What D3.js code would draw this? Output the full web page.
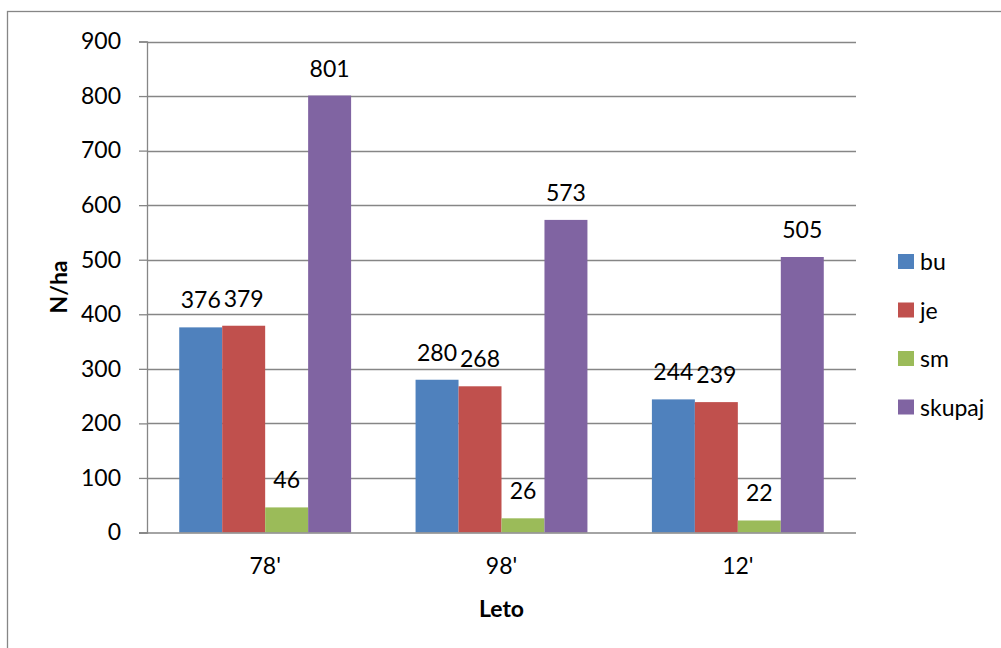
<!DOCTYPE html>
<html>
<head>
<meta charset="utf-8">
<script src="https://cdn.jsdelivr.net/npm/d3@7"></script>
<style>
  html, body { margin: 0; padding: 0; background: #fff; }
  svg { display: block; font-family: Lato, "Open Sans", sans-serif; }
</style>
</head>
<body>
<svg id="chart" width="1001" height="648"></svg>
<script>
// Tree density per survey year
const years = ["78'", "98'", "12'"];
const seriesNames = ["bu", "je", "sm", "skupaj"];
const bu = [376, 280, 244];
const je = [379, 268, 239];
const sm = [46, 26, 22];
const skupaj = [801, 573, 505];
const yTicks = [0, 100, 200, 300, 400, 500, 600, 700, 800, 900];
const colors = ["#4F81BD", "#C0504D", "#9BBB59", "#8064A2"];

const seriesValues = [bu, je, sm, skupaj];

const svg = d3.select("#chart");
const fontSize = 23;

// frame around the chart area
svg.append("rect")
  .attr("x", 7.5).attr("y", 11.5)
  .attr("width", 1010).attr("height", 660)
  .attr("fill", "#fff").attr("stroke", "#868686").attr("stroke-width", 1.3);

const plot = { left: 147, right: 856, top: 41.5, bottom: 532.5 };

const x = d3.scaleBand().domain(years).range([plot.left, plot.right]).paddingInner(0).paddingOuter(0);
const y = d3.scaleLinear().domain([0, 900]).range([plot.bottom, plot.top]);

// bars fill 4/5.5 of each category band (gap width 150%)
const groupW = x.bandwidth() * 4 / 5.5;
const x1 = d3.scaleBand().domain(seriesNames).range([0, groupW]);

// horizontal gridlines
svg.append("g")
  .selectAll("line")
  .data(yTicks.filter(d => d > 0))
  .join("line")
  .attr("x1", plot.left).attr("x2", plot.right)
  .attr("y1", d => Math.round(y(d)) + 0.5).attr("y2", d => Math.round(y(d)) + 0.5)
  .attr("stroke", "#868686").attr("stroke-width", 1.3);

// y axis
const yAxis = d3.axisLeft(y).tickValues(yTicks).tickSize(8).tickPadding(18).tickFormat(d3.format("d"));
const gy = svg.append("g").attr("transform", `translate(${plot.left},0)`).call(yAxis);
gy.select(".domain").attr("stroke", "#868686").attr("stroke-width", 1.3);
gy.selectAll(".tick line").attr("stroke", "#868686").attr("stroke-width", 1.3);
gy.selectAll(".tick text").attr("font-size", fontSize).attr("fill", "#000")
  .attr("font-family", "Lato, sans-serif");

// bars
const groups = svg.append("g")
  .selectAll("g")
  .data(years)
  .join("g")
  .attr("transform", d => `translate(${x(d) + (x.bandwidth() - groupW) / 2},0)`);

groups.selectAll("rect")
  .data((d, i) => seriesNames.map((s, j) => ({ s, j, v: seriesValues[j][i] })))
  .join("rect")
  .attr("x", d => x1(d.s))
  .attr("width", x1.bandwidth())
  .attr("y", d => y(d.v))
  .attr("height", d => y(0) - y(d.v))
  .attr("fill", d => colors[d.j]);

// value labels
groups.selectAll("text")
  .data((d, i) => seriesNames.map((s, j) => ({ s, j, v: seriesValues[j][i] })))
  .join("text")
  .attr("x", d => x1(d.s) + x1.bandwidth() / 2)
  .attr("y", d => y(d.v) - 19)
  .attr("text-anchor", "middle")
  .attr("font-size", fontSize)
  .attr("fill", "#000")
  .text(d => d.v);

// x axis
const xAxis = d3.axisBottom(x).tickSize(0).tickPadding(25);
const gx = svg.append("g").attr("transform", `translate(0,${plot.bottom})`).call(xAxis);
gx.select(".domain").attr("stroke", "#868686").attr("stroke-width", 1.3)
  .attr("d", `M${plot.left - 8},0.5H${plot.right}`);
gx.selectAll(".tick text").attr("font-size", fontSize).attr("fill", "#000")
  .attr("font-family", "Lato, sans-serif");

// axis titles
svg.append("text")
  .attr("x", (plot.left + plot.right) / 2).attr("y", 617)
  .attr("text-anchor", "middle").attr("font-size", fontSize).attr("font-weight", "bold")
  .text("Leto");

svg.append("text")
  .attr("transform", `translate(67,${(plot.top + plot.bottom) / 2}) rotate(-90)`)
  .attr("text-anchor", "middle").attr("font-size", fontSize).attr("font-weight", "bold")
  .text("N/ha");

// legend
const legend = svg.append("g")
  .selectAll("g")
  .data(seriesNames)
  .join("g")
  .attr("transform", (d, i) => `translate(898,${262 + i * 48.5})`);

legend.append("rect")
  .attr("x", 0).attr("y", -8).attr("width", 16).attr("height", 15)
  .attr("fill", (d, i) => colors[i]);

legend.append("text")
  .attr("x", 22).attr("y", 8)
  .attr("font-size", fontSize).attr("fill", "#000")
  .text(d => d);
</script>
</body>
</html>
